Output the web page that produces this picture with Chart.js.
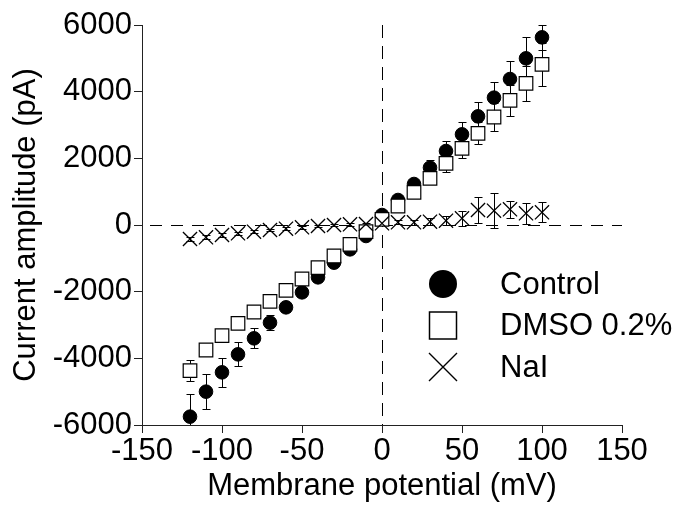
<!DOCTYPE html>
<html>
<head>
<meta charset="utf-8">
<script src="https://cdn.jsdelivr.net/npm/chart.js@4.4.1/dist/chart.umd.min.js"></script>
<style>
  body { margin: 0; background: #fff; }
  #wrap { width: 680px; height: 508px; }
</style>
</head>
<body>
<div id="wrap"><canvas id="ivChart" width="680" height="508"></canvas></div>
<script>
// membrane potential steps (mV)
const voltages = [-120, -110, -100, -90, -80, -70, -60, -50, -40, -30, -20, -10, 0, 10, 20, 30, 40, 50, 60, 70, 80, 90, 100];

// current amplitude (pA)
const control    = [-5750, -5000, -4420, -3880, -3400, -2930, -2470, -2020, -1570, -1130, -730, -330, 300, 750, 1230, 1720, 2220, 2720, 3260, 3820, 4380, 5000, 5630];
const controlErr = [680, 520, 440, 360, 300, 230, 150, 120, 100, 90, 80, 70, 80, 90, 120, 230, 310, 380, 420, 470, 550, 650, 370];

const dmso    = [-4370, -3750, -3320, -2950, -2610, -2290, -1960, -1620, -1280, -930, -580, -200, 170, 570, 980, 1400, 1850, 2300, 2750, 3240, 3740, 4250, 4820];
const dmsoErr = [320, 150, 130, 120, 110, 100, 100, 90, 90, 80, 80, 70, 70, 80, 100, 150, 270, 280, 330, 410, 470, 530, 650];

const nai    = [-420, -370, -300, -250, -200, -150, -110, -70, -30, 0, 20, 30, 50, 80, 80, 100, 130, 200, 450, 430, 470, 350, 380];
const naiErr = [60, 60, 50, 50, 40, 40, 40, 40, 40, 40, 40, 40, 50, 60, 80, 110, 140, 220, 380, 520, 250, 310, 300];

const xTicks = [-150, -100, -50, 0, 50, 100, 150];
const yTicks = [-6000, -4000, -2000, 0, 2000, 4000, 6000];

const FONT = "'Liberation Sans', Arial, sans-serif";
const AXIS_COLOR = "#222";

function toPoints(ys) {
  return voltages.map((v, i) => ({ x: v, y: ys[i] }));
}

// snap to pixel centre so 1px lines stay crisp
const crisp = v => Math.round(v) + 0.5;

// error bars + the dashed zero lines, under the markers
const errorBars = {
  id: "errorBars",
  beforeDatasetsDraw(chart) {
    const { ctx, chartArea: a, scales: { x, y } } = chart;
    ctx.save();
    ctx.strokeStyle = "#000";
    ctx.lineWidth = 1;

    // dashed zero lines
    const y0 = crisp(y.getPixelForValue(0)), x0 = crisp(x.getPixelForValue(0));
    ctx.setLineDash([12, 9]);
    ctx.beginPath();
    ctx.moveTo(a.left + 8, y0);
    ctx.lineTo(a.right, y0);
    ctx.stroke();
    ctx.setLineDash([13, 8]);
    ctx.beginPath();
    ctx.moveTo(x0, a.top);
    ctx.lineTo(x0, a.bottom);
    ctx.stroke();
    ctx.setLineDash([]);

    ctx.beginPath();
    ctx.rect(a.left, a.top, a.right - a.left, a.bottom - a.top);
    ctx.clip();

    chart.data.datasets.forEach(ds => {
      const errs = ds.errors || [];
      ds.data.forEach((p, i) => {
        const px = crisp(x.getPixelForValue(p.x));
        const top = crisp(y.getPixelForValue(p.y + errs[i]));
        const bot = crisp(y.getPixelForValue(p.y - errs[i]));
        ctx.beginPath();
        ctx.moveTo(px, top); ctx.lineTo(px, bot);
        ctx.moveTo(px - 4, top); ctx.lineTo(px + 4, top);
        ctx.moveTo(px - 4, bot); ctx.lineTo(px + 4, bot);
        ctx.stroke();
      });
    });
    ctx.restore();
  }
};

// legend in the lower right of the plot
const sideLegend = {
  id: "sideLegend",
  afterDraw(chart) {
    const { ctx, chartArea: a } = chart;
    const mx = a.left + 301, tx = a.left + 358;
    let ty = a.top + 259;
    ctx.save();
    ctx.font = "31px " + FONT;
    ctx.textBaseline = "middle";
    ctx.fillStyle = "#000";
    ctx.strokeStyle = "#000";
    ctx.lineWidth = 1.5;
    chart.data.datasets.slice().sort((p, q) => q.order - p.order).forEach(ds => {
      ctx.beginPath();
      if (ds.pointStyle === "circle") {
        ctx.arc(mx, ty, 14, 0, Math.PI * 2);
        ctx.fill();
      } else if (ds.pointStyle === "rect") {
        ctx.strokeRect(mx - 13.5, ty - 13.5, 27, 27);
      } else {
        ctx.lineWidth = 1.4;
        ctx.moveTo(mx - 14, ty - 14); ctx.lineTo(mx + 14, ty + 14);
        ctx.moveTo(mx + 14, ty - 14); ctx.lineTo(mx - 14, ty + 14);
        ctx.stroke();
      }
      ctx.fillText(ds.label, tx, ty + 1);
      ty += 41.5;
    });
    ctx.restore();
  }
};

new Chart(document.getElementById("ivChart"), {
  type: "scatter",
  data: {
    datasets: [
      {
        label: "Control",
        data: toPoints(control),
        errors: controlErr,
        order: 3,
        pointStyle: "circle",
        pointRadius: 6.8,
        pointHoverRadius: 6.8,
        backgroundColor: "#000",
        borderColor: "#000",
        borderWidth: 1
      },
      {
        label: "DMSO 0.2%",
        data: toPoints(dmso),
        errors: dmsoErr,
        order: 2,
        pointStyle: "rect",
        pointRadius: 9.6,
        pointHoverRadius: 9.6,
        backgroundColor: "#fff",
        borderColor: "#000",
        borderWidth: 1.2
      },
      {
        label: "NaI",
        data: toPoints(nai),
        errors: naiErr,
        order: 1,
        pointStyle: "crossRot",
        pointRadius: 10,
        pointHoverRadius: 10,
        backgroundColor: "#000",
        borderColor: "#000",
        borderWidth: 1.3
      }
    ]
  },
  options: {
    responsive: false,
    devicePixelRatio: 1,
    animation: false,
    events: [],
    layout: { padding: { left: 0, top: 25, right: 58, bottom: 0 } },
    plugins: {
      legend: { display: false },
      tooltip: { enabled: false }
    },
    scales: {
      x: {
        type: "linear",
        min: -150,
        max: 150,
        afterBuildTicks: s => { s.ticks = xTicks.map(v => ({ value: v })); },
        afterFit: s => { s.height = 83; },
        ticks: {
          color: "#000",
          font: { family: FONT, size: 31 },
          padding: 0,
          maxRotation: 0,
          autoSkip: false,
          callback: v => String(v)
        },
        grid: { drawOnChartArea: false, drawTicks: true, tickLength: 8, color: AXIS_COLOR },
        border: { display: true, color: AXIS_COLOR, width: 1 },
        title: {
          display: true,
          text: "Membrane potential (mV)",
          color: "#000",
          font: { family: FONT, size: 31 },
          padding: { top: 0, bottom: 3 }
        }
      },
      y: {
        type: "linear",
        min: -6000,
        max: 6000,
        afterBuildTicks: s => { s.ticks = yTicks.map(v => ({ value: v })); },
        afterFit: s => { s.width = 142; },
        ticks: {
          color: "#000",
          font: { family: FONT, size: 31 },
          padding: 2,
          autoSkip: false,
          callback: v => String(v)
        },
        grid: { drawOnChartArea: false, drawTicks: true, tickLength: 8, color: AXIS_COLOR },
        border: { display: true, color: AXIS_COLOR, width: 1 },
        title: {
          display: true,
          text: "Current amplitude (pA)",
          color: "#000",
          font: { family: FONT, size: 31 },
          padding: { top: 8, bottom: 0 }
        }
      }
    }
  },
  plugins: [errorBars, sideLegend]
});
</script>
</body>
</html>
